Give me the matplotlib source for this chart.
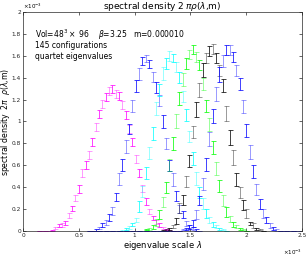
import numpy as np
import matplotlib
matplotlib.use('Agg')
import matplotlib.pyplot as plt
from matplotlib.ticker import FuncFormatter
from matplotlib.colors import to_rgba

# bins are 0.03 (x10^-3) wide, values in units of 1e-3
step = 0.03

magenta_x0 = 0.14
magenta = [0, 0, 0, 0, 0.005, 0.027, 0.05, 0.055, 0.073, 0.14, 0.207, 0.30, 0.383, 0.527,
           0.60, 0.694, 0.816, 0.953, 1.068, 1.163, 1.227, 1.275, 1.30, 1.248, 1.233, 1.153,
           1.062, 0.93, 0.815, 0.657, 0.527, 0.39, 0.268, 0.176, 0.116, 0.079, 0.055, 0.03,
           0.015, 0.005, 0, 0]
magenta_err = [0, 0, 0, 0, 0.005, 0.01, 0.014, 0.015, 0.017, 0.022, 0.025, 0.03, 0.033, 0.037,
               0.037, 0.037, 0.037, 0.037, 0.037, 0.037, 0.037, 0.037, 0.037, 0.037, 0.037, 0.037,
               0.037, 0.037, 0.037, 0.037, 0.037, 0.034, 0.03, 0.025, 0.02, 0.017, 0.015, 0.01,
               0.007, 0.004, 0, 0]

blue1_x0 = 0.59
blue1 = [0, 0.0, 0.01, 0.025, 0.05, 0.08, 0.12, 0.185, 0.307, 0.475, 0.60, 0.77, 0.93, 1.144,
         1.327, 1.434, 1.555, 1.577, 1.525, 1.41, 1.312, 1.19, 1.0, 0.80, 0.60, 0.466, 0.32,
         0.20, 0.15, 0.07, 0.04, 0.02, 0.01, 0]
blue1_err = [0, 0, 0.008, 0.012, 0.018, 0.022, 0.03, 0.036, 0.038, 0.053, 0.053, 0.06, 0.046,
             0.053, 0.056, 0.053, 0.038, 0.03, 0.038, 0.046, 0.053, 0.053, 0.06, 0.053, 0.05,
             0.06, 0.046, 0.038, 0.035, 0.023, 0.018, 0.012, 0.008, 0]

cyan_x0 = 0.86
cyan = [0, 0.005, 0.015, 0.03, 0.06, 0.10, 0.22, 0.36, 0.53, 0.71, 0.89, 1.12, 1.29, 1.44,
        1.53, 1.60, 1.58, 1.50, 1.40, 1.23, 1.06, 0.86, 0.66, 0.48, 0.35, 0.25, 0.16, 0.10,
        0.06, 0.04, 0.02, 0.01, 0]
cyan_err = [0, 0.006, 0.01, 0.012, 0.015, 0.02, 0.05, 0.053, 0.053, 0.055, 0.06, 0.06, 0.053,
            0.06, 0.053, 0.046, 0.041, 0.046, 0.053, 0.053, 0.056, 0.05, 0.06, 0.06, 0.053,
            0.05, 0.038, 0.03, 0.023, 0.015, 0.01, 0.006, 0]

green_x0 = 1.10
green = [0.01, 0.02, 0.04, 0.08, 0.15, 0.26, 0.40, 0.60, 0.80, 1.00, 1.21, 1.38, 1.53, 1.61,
         1.66, 1.59, 1.52, 1.34, 1.14, 0.97, 0.76, 0.57, 0.41, 0.28, 0.17, 0.11, 0.06, 0.04,
         0.02, 0.01, 0]
green_err = [0.006, 0.01, 0.018, 0.033, 0.038, 0.046, 0.05, 0.055, 0.06, 0.064, 0.06, 0.06,
             0.053, 0.043, 0.043, 0.046, 0.046, 0.053, 0.056, 0.06, 0.06, 0.06, 0.058, 0.05,
             0.046, 0.03, 0.023, 0.015, 0.01, 0.006, 0]

black_x0 = 1.25
black = [0.005, 0.01, 0.02, 0.04, 0.09, 0.21, 0.28, 0.45, 0.64, 0.90, 1.11, 1.29, 1.47, 1.58,
         1.64, 1.66, 1.58, 1.47, 1.33, 1.07, 0.85, 0.67, 0.47, 0.35, 0.24, 0.16, 0.07, 0.05,
         0.02, 0.01, 0]
black_err = [0.004, 0.007, 0.01, 0.015, 0.03, 0.043, 0.046, 0.05, 0.056, 0.055, 0.068, 0.065,
             0.06, 0.05, 0.046, 0.046, 0.046, 0.05, 0.058, 0.068, 0.068, 0.065, 0.06, 0.05,
             0.046, 0.038, 0.015, 0.02, 0.01, 0.006, 0]

# last blue set: empty bins from 0.62 up, peak near 1.85
blue2_x0 = 0.62
blue2 = [0.0] * 27 + [0.01, 0.02, 0.04, 0.07, 0.15, 0.28, 0.43, 0.61, 0.84, 1.05, 1.25, 1.43,
                      1.55, 1.65, 1.65, 1.59, 1.47, 1.34, 1.14, 0.92, 0.72, 0.54, 0.38, 0.25,
                      0.16, 0.10, 0.05, 0.02, 0.01] + [0.0] * 6
blue2_err = [0.0] * 27 + [0.006, 0.01, 0.015, 0.03, 0.038, 0.043, 0.053, 0.06, 0.068, 0.065,
                          0.065, 0.07, 0.056, 0.046, 0.046, 0.046, 0.05, 0.056, 0.06, 0.06,
                          0.065, 0.06, 0.053, 0.046, 0.038, 0.03, 0.023, 0.015, 0.008] + [0.0] * 6

series = [
    (magenta_x0, magenta, magenta_err, '#ff00ff'),
    (blue1_x0, blue1, blue1_err, '#0000ff'),
    (cyan_x0, cyan, cyan_err, '#00ffff'),
    (green_x0, green, green_err, '#00ff00'),
    (black_x0, black, black_err, '#000000'),
    (blue2_x0, blue2, blue2_err, '#0000ff'),
]

plt.rcParams['font.family'] = ['DejaVu Sans']
plt.rcParams['mathtext.fontset'] = 'dejavusans'

fig = plt.figure(figsize=(3.07, 2.56), dpi=100)
ax = fig.add_axes([0.075, 0.098, 0.909, 0.855])

for x0, vals, err, col in series:
    y = np.array(vals)
    e = np.array(err)
    x = x0 + step * np.arange(len(y))
    # every other bin drawn pale, like the overlapping sets in the original
    ax.errorbar(x[1::2], y[1::2], yerr=e[1::2], fmt='none', ecolor=to_rgba(col, 0.4),
                elinewidth=0.7, capsize=1.8, capthick=0.7)
    ax.errorbar(x[::2], y[::2], yerr=e[::2], fmt='none', ecolor=to_rgba(col, 0.75),
                elinewidth=0.7, capsize=1.8, capthick=0.7)

ax.set_xlim(0, 2.5)
ax.set_ylim(0, 2)
ax.set_xticks([0, 0.5, 1, 1.5, 2, 2.5])
ax.set_yticks(np.arange(0, 2.01, 0.2))
fmt = FuncFormatter(lambda v, p: '%g' % round(v, 2))
ax.xaxis.set_major_formatter(fmt)
ax.yaxis.set_major_formatter(fmt)
ax.tick_params(direction='in', length=2, width=0.5, labelsize=4.2, pad=1.5,
               top=True, right=True, colors='#262626')
for s in ax.spines.values():
    s.set_linewidth(0.5)
    s.set_color('#262626')

ax.set_title(r'spectral density 2$\,\pi\rho(\lambda$,m)', fontsize=6.5, pad=2)
ax.set_xlabel(r'eigenvalue scale $\lambda$', fontsize=6, labelpad=1)
ax.set_ylabel(r'spectral density  2$\pi$  $\rho(\lambda$,m)', fontsize=5.6)
ax.yaxis.set_label_coords(-0.041, 0.5)

ax.text(0, 1.005, r'$\times10^{-3}$', transform=ax.transAxes, fontsize=4, va='bottom')
ax.text(1, -0.075, r'$\times10^{-3}$', transform=ax.transAxes, fontsize=4, ha='right', va='top')

ax.text(0.043, 0.897, r'Vol=48$^3\times$ 96    $\beta$=3.25   m=0.000010',
        transform=ax.transAxes, fontsize=5.5, va='center')
ax.text(0.043, 0.847, '145 configurations', transform=ax.transAxes, fontsize=5.5, va='center')
ax.text(0.043, 0.797, 'quartet eigenvalues', transform=ax.transAxes, fontsize=5.5, va='center')

fig.savefig('out.png', dpi=100)
